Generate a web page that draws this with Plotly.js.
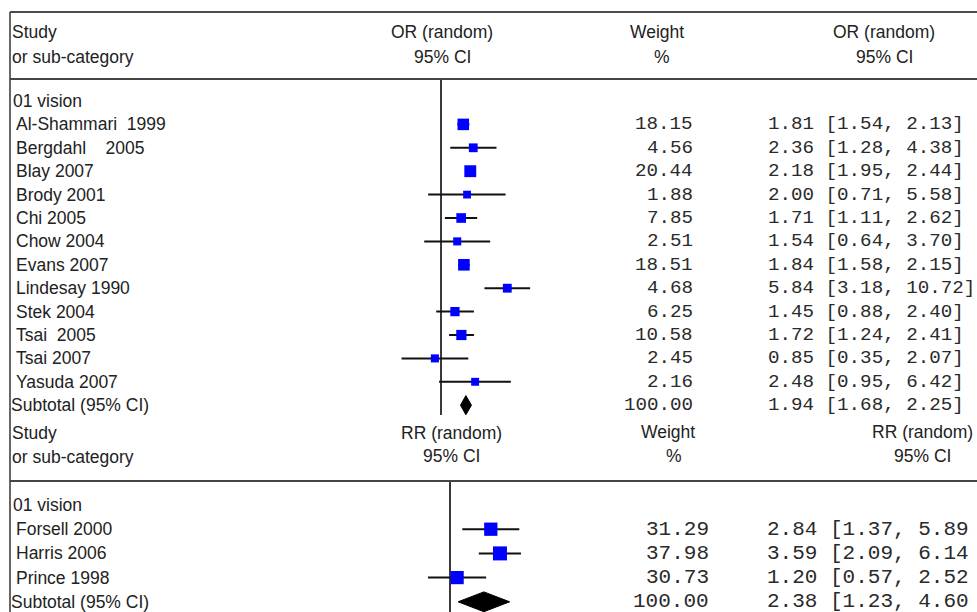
<!DOCTYPE html>
<html>
<head>
<meta charset="utf-8">
<script src="https://cdn.plot.ly/plotly-3.0.1.min.js"></script>
<style>html,body{margin:0;padding:0;background:#fff;}#chart{width:977px;height:612px;}</style>
</head>
<body>
<div id="chart"></div>
<script>
// ---------- DATA: panel 1 (OR, random) ----------
const studiesOR = ["Al-Shammari\u00A0\u00A01999", "Bergdahl\u00A0\u00A0\u00A0\u00A02005", "Blay 2007", "Brody 2001", "Chi 2005", "Chow 2004",
  "Evans 2007", "Lindesay 1990", "Stek 2004", "Tsai\u00A0\u00A02005", "Tsai 2007", "Yasuda 2007"];
const weightOR = [18.15, 4.56, 20.44, 1.88, 7.85, 2.51, 18.51, 4.68, 6.25, 10.58, 2.45, 2.16];
const estOR    = [1.81, 2.36, 2.18, 2.00, 1.71, 1.54, 1.84, 5.84, 1.45, 1.72, 0.85, 2.48];
const lowOR    = [1.54, 1.28, 1.95, 0.71, 1.11, 0.64, 1.58, 3.18, 0.88, 1.24, 0.35, 0.95];
const highOR   = [2.13, 4.38, 2.44, 5.58, 2.62, 3.70, 2.15, 10.72, 2.40, 2.41, 2.07, 6.42];
const subtotalOR = {weight: 100.00, est: 1.94, low: 1.68, high: 2.25};

// ---------- DATA: panel 2 (RR, random) ----------
const studiesRR = ["Forsell 2000", "Harris 2006", "Prince 1998"];
const weightRR = [31.29, 37.98, 30.73];
const estRR    = [2.84, 3.59, 1.20];
const lowRR    = [1.37, 2.09, 0.57];
const highRR   = [5.89, 6.14, 2.52];
const subtotalRR = {weight: 100.00, est: 2.38, low: 1.23, high: 4.60};

const groupLabel = "01 vision";
const subtotalLabel = "Subtotal (95% CI)";

// ---------- geometry helpers ----------
const W = 977, H = 612;
const fx = p => p / W;
const fy = p => 1 - p / H;
const Y1 = 101, D1 = 23.4, X1 = 441, K1 = 86.5;
const Y2 = 505, D2 = 24.2, X2 = 450, K2 = 90;
const rowOfPx1 = p => (p - Y1) / D1;
const rowOfPx2 = p => (p - Y2) / D2;

const SANS = "Liberation Sans, Arial, sans-serif";
const MONO = "Liberation Mono, Courier New, monospace";
const TXT = "#222";
const MTXT = "#2a2a2a";
const f2 = v => v.toFixed(2);

function panelTraces(xa, ya, est, low, high, weight, sub) {
  const n = est.length;
  const lx = [], ly = [];
  for (let i = 0; i < n; i++) { lx.push(low[i], high[i], null); ly.push(i + 1, i + 1, null); }
  const subRow = n + 1;
  const h = 0.41;
  return [
    {type: 'scatter', mode: 'lines', x: lx, y: ly, xaxis: xa, yaxis: ya,
     line: {color: '#111', width: 2}, hoverinfo: 'skip'},
    {type: 'scatter', mode: 'markers', x: est, y: est.map((_, i) => i + 1), xaxis: xa, yaxis: ya,
     marker: {symbol: 'square', color: '#0000ff', opacity: 1,
              size: weight.map(w => 6 + 1.3 * Math.sqrt(w)), line: {width: 0}},
     hoverinfo: 'skip'},
    {type: 'scatter', mode: 'lines', fill: 'toself', fillcolor: '#000',
     x: [sub.low, sub.est, sub.high, sub.est, sub.low],
     y: [subRow, subRow - h, subRow, subRow + h, subRow], xaxis: xa, yaxis: ya,
     line: {color: '#000', width: 1}, hoverinfo: 'skip'}
  ];
}

const traces = [
  {type: 'scatter', mode: 'lines', x: [1, 1], y: [rowOfPx1(79), rowOfPx1(415)], xaxis: 'x', yaxis: 'y',
   line: {color: '#3a3a3a', width: 2}, hoverinfo: 'skip'},
  {type: 'scatter', mode: 'lines', x: [1, 1], y: [rowOfPx2(481), rowOfPx2(640)], xaxis: 'x2', yaxis: 'y2',
   line: {color: '#3a3a3a', width: 2}, hoverinfo: 'skip'},
  ...panelTraces('x', 'y', estOR, lowOR, highOR, weightOR, subtotalOR),
  ...panelTraces('x2', 'y2', estRR, lowRR, highRR, weightRR, subtotalRR)
];

const ann = [];
function txt(text, x, y, yref, anchor, font, size, color) {
  ann.push({text: text, x: x, y: y, xref: 'paper', yref: yref, xanchor: anchor, yanchor: 'middle',
    showarrow: false, font: {family: font, size: size, color: color || TXT}});
}
// headers panel 1
txt("Study", fx(10), fy(32), 'paper', 'left', SANS, 17.5);
txt("or sub-category", fx(10), fy(57), 'paper', 'left', SANS, 17.5);
txt("OR (random)", fx(442), fy(32), 'paper', 'center', SANS, 17.5);
txt("95% CI", fx(442), fy(57), 'paper', 'center', SANS, 17.5);
txt("Weight", fx(657), fy(32), 'paper', 'center', SANS, 17.5);
txt("%", fx(662), fy(57), 'paper', 'center', SANS, 17.5);
txt("OR (random)", fx(884), fy(32), 'paper', 'center', SANS, 17.5);
txt("95% CI", fx(884), fy(57), 'paper', 'center', SANS, 17.5);
// headers panel 2
txt("Study", fx(10), fy(433), 'paper', 'left', SANS, 17.5);
txt("or sub-category", fx(10), fy(457), 'paper', 'left', SANS, 17.5);
txt("RR (random)", fx(451), fy(433), 'paper', 'center', SANS, 17.5);
txt("95% CI", fx(451), fy(456), 'paper', 'center', SANS, 17.5);
txt("Weight", fx(668), fy(432), 'paper', 'center', SANS, 17.5);
txt("%", fx(674), fy(456), 'paper', 'center', SANS, 17.5);
txt("RR (random)", fx(922), fy(432), 'paper', 'center', SANS, 17.5);
txt("95% CI", fx(922), fy(456), 'paper', 'center', SANS, 17.5);

// rows panel 1
txt(groupLabel, fx(11), 0, 'y', 'left', SANS, 17.5);
studiesOR.forEach((s, i) => {
  txt(s, fx(14), i + 1, 'y', 'left', SANS, 17.5);
  txt(f2(weightOR[i]), fx(695), i + 1, 'y', 'right', MONO, 19.2, MTXT);
  txt(`${f2(estOR[i])} [${f2(lowOR[i])}, ${f2(highOR[i])}]`, fx(766), i + 1, 'y', 'left', MONO, 19.2, MTXT);
});
txt(subtotalLabel, fx(9), studiesOR.length + 1, 'y', 'left', SANS, 17.5);
txt(f2(subtotalOR.weight), fx(695), studiesOR.length + 1, 'y', 'right', MONO, 19.2, MTXT);
txt(`${f2(subtotalOR.est)} [${f2(subtotalOR.low)}, ${f2(subtotalOR.high)}]`, fx(766), studiesOR.length + 1, 'y', 'left', MONO, 19.2, MTXT);

// rows panel 2 (right edge of the image crops the closing bracket)
txt(groupLabel, fx(11), 0, 'y2', 'left', SANS, 17.5);
studiesRR.forEach((s, i) => {
  txt(s, fx(14), i + 1, 'y2', 'left', SANS, 17.5);
  txt(f2(weightRR[i]), fx(711), i + 1, 'y2', 'right', MONO, 21, MTXT);
  txt(`${f2(estRR[i])} [${f2(lowRR[i])}, ${f2(highRR[i])}`, fx(765), i + 1, 'y2', 'left', MONO, 21, MTXT);
});
txt(subtotalLabel, fx(9), studiesRR.length + 1, 'y2', 'left', SANS, 17.5);
txt(f2(subtotalRR.weight), fx(711), studiesRR.length + 1, 'y2', 'right', MONO, 21, MTXT);
txt(`${f2(subtotalRR.est)} [${f2(subtotalRR.low)}, ${f2(subtotalRR.high)}`, fx(765), studiesRR.length + 1, 'y2', 'left', MONO, 21, MTXT);

const shapes = [
  {type: 'line', xref: 'paper', yref: 'paper', x0: fx(10), x1: 1, y0: fy(12), y1: fy(12), line: {color: '#111', width: 1.5}},
  {type: 'line', xref: 'paper', yref: 'paper', x0: fx(10), x1: fx(10), y0: fy(12), y1: 0, line: {color: '#333', width: 1.5}},
  {type: 'line', xref: 'paper', yref: 'paper', x0: fx(10), x1: 1, y0: fy(79), y1: fy(79), line: {color: '#444', width: 2}},
  {type: 'line', xref: 'paper', yref: 'paper', x0: fx(10), x1: 1, y0: fy(481), y1: fy(481), line: {color: '#444', width: 2}}
];

const axHidden = {showgrid: false, zeroline: false, showticklabels: false, ticks: '', showline: false, fixedrange: true};
const layout = {
  width: W, height: H, margin: {l: 0, r: 0, t: 0, b: 0, pad: 0},
  paper_bgcolor: '#fff', plot_bgcolor: 'rgba(0,0,0,0)', showlegend: false,
  xaxis: Object.assign({type: 'log', domain: [0, 1], range: [-X1 / K1, (W - X1) / K1], anchor: 'y'}, axHidden),
  yaxis: Object.assign({domain: [0, 1], range: [rowOfPx1(H), rowOfPx1(0)], anchor: 'x'}, axHidden),
  xaxis2: Object.assign({type: 'log', domain: [0, 1], range: [-X2 / K2, (W - X2) / K2], anchor: 'y2'}, axHidden),
  yaxis2: Object.assign({domain: [0, 1], range: [rowOfPx2(H), rowOfPx2(0)], anchor: 'x2'}, axHidden),
  annotations: ann, shapes: shapes
};
Plotly.newPlot('chart', traces, layout, {staticPlot: true, displayModeBar: false});
</script>
</body>
</html>
